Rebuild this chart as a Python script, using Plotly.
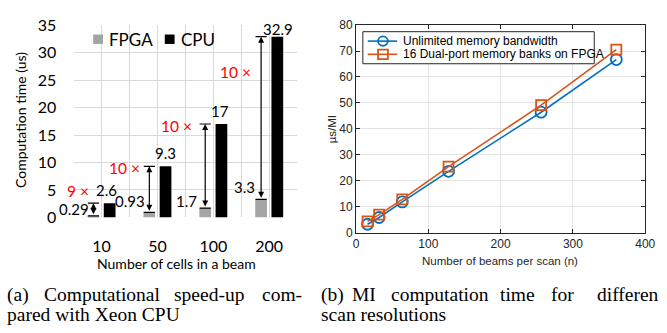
import plotly.graph_objects as go

# ---------------- data ----------------
cells = ["10", "50", "100", "200"]
fpga_us = [0.29, 0.93, 1.7, 3.3]
cpu_us = [2.6, 9.3, 17, 32.9]

beams = [16, 32, 64, 128, 256, 360]
unlimited_bw = [3.2, 5.8, 11.8, 23.6, 46.4, 66.7]
dualport_banks = [4.3, 6.9, 12.8, 25.4, 49.1, 70.5]

series_names = ["Unlimited memory bandwidth", "16 Dual-port memory banks on FPGA"]

caption_a = [["(a)", "Computational", "speed-up", "com-"], ["pared with Xeon CPU"]]
caption_b = [["(b)", "MI", "computation", "time", "for", "differen"], ["scan resolutions"]]

# ---------------- layout helpers ----------------
W, H = 667, 333
def fx(p):
    return p / W
def fy(p):
    return 1 - p / H

LEFT_FONT = "Lato, Carlito, Calibri, sans-serif"
RIGHT_FONT = "Liberation Sans, Arial, sans-serif"
SERIF = "Liberation Serif, Times New Roman, serif"

pos = list(range(len(cells)))
BAR_W = 0.21
FPGA_OFF = -0.25
CPU_OFF = 0.04
arrow_dx = FPGA_OFF + BAR_W / 2          # arrow sits on the FPGA bar
cpu_dx = CPU_OFF + BAR_W / 2

fig = go.Figure()

fig.add_bar(x=pos, y=fpga_us, width=BAR_W, offset=FPGA_OFF, marker_color="#A5A5A5",
            marker_line_width=0, xaxis="x", yaxis="y", showlegend=False, name="FPGA")
fig.add_bar(x=pos, y=cpu_us, width=BAR_W, offset=CPU_OFF, marker_color="#000000",
            marker_line_width=0, xaxis="x", yaxis="y", showlegend=False, name="CPU")

colors = ["#0072BD", "#D95319"]
symbols = ["circle-open", "square-open"]
sizes = [11, 10]
for yv, nm, c, s, sz in zip([unlimited_bw, dualport_banks], series_names, colors, symbols, sizes):
    fig.add_scatter(x=beams, y=yv, mode="lines+markers", name=nm, showlegend=False,
                    line=dict(color=c, width=1.6),
                    marker=dict(symbol=s, size=sz, color=c, line=dict(color=c, width=1.8)),
                    xaxis="x2", yaxis="y2")

annotations = []
shapes = []

# arrows, caps and labels on the bar chart
fpga_lbl_xshift = [-2, -2, -6, -4]
fpga_lbl_yshift = [7, 11, 7, 12]
cpu_lbl_xshift = [-3, 0, -1, 1]
cpu_lbl_yshift = [13, 13, 13, 8]
ratio_xshift = [-2, -7, -11, -8]
ratio_yshift = [12, -2, -2, -35]
for i, (p, f, c) in enumerate(zip(pos, fpga_us, cpu_us)):
    xa = p + arrow_dx
    annotations.append(dict(x=xa, y=c, ax=xa, ay=f, xref="x", yref="y", axref="x", ayref="y",
                            text="", showarrow=True, arrowside="end+start", arrowhead=2,
                            startarrowhead=2, arrowsize=1.0, startarrowsize=1.0, arrowwidth=1.2,
                            arrowcolor="black", standoff=0, startstandoff=0))
    for yy in (f, c):
        shapes.append(dict(type="line", xref="x", yref="y", x0=xa - 0.1, x1=xa + 0.1, y0=yy, y1=yy,
                           line=dict(color="black", width=1.2)))
    annotations.append(dict(x=xa, y=f, xref="x", yref="y", text=f"{f:g}", showarrow=False,
                            xanchor="right", yanchor="middle", xshift=fpga_lbl_xshift[i],
                            yshift=fpga_lbl_yshift[i], font=dict(family=LEFT_FONT, size=15, color="black")))
    annotations.append(dict(x=p + cpu_dx, y=c, xref="x", yref="y", text=f"{c:g}", showarrow=False,
                            xanchor="center", yanchor="middle", xshift=cpu_lbl_xshift[i],
                            yshift=cpu_lbl_yshift[i], font=dict(family=LEFT_FONT, size=15, color="black")))
    annotations.append(dict(x=xa, y=c, xref="x", yref="y", text=f"{round(c / f)} ×", showarrow=False,
                            xanchor="right", yanchor="middle", xshift=ratio_xshift[i],
                            yshift=ratio_yshift[i], font=dict(family=LEFT_FONT, size=15.5, color="#FF0000")))

# left legend (drawn)
shapes.append(dict(type="rect", xref="paper", yref="paper", x0=fx(92), x1=fx(102), y0=fy(36), y1=fy(26),
                   fillcolor="#A5A5A5", line=dict(width=0)))
shapes.append(dict(type="rect", xref="paper", yref="paper", x0=fx(165), x1=fx(175), y0=fy(36), y1=fy(26),
                   fillcolor="#000000", line=dict(width=0)))
annotations.append(dict(x=fx(106), y=fy(31), xref="paper", yref="paper", text="FPGA", showarrow=False,
                        xanchor="left", yanchor="middle", font=dict(family=LEFT_FONT, size=17, color="black")))
annotations.append(dict(x=fx(179), y=fy(31), xref="paper", yref="paper", text="CPU", showarrow=False,
                        xanchor="left", yanchor="middle", font=dict(family=LEFT_FONT, size=17, color="black")))

# right legend (drawn, compact like the MATLAB one)
shapes.append(dict(type="rect", xref="paper", yref="paper", x0=fx(367), x1=fx(603), y0=fy(57), y1=fy(23),
                   fillcolor="white", line=dict(color="#262626", width=1)))
leg_rows = [33, 47]
for row_y, nm, c, s in zip(leg_rows, series_names, colors, symbols):
    shapes.append(dict(type="line", xref="paper", yref="paper", x0=fx(372), x1=fx(402), y0=fy(row_y), y1=fy(row_y),
                       line=dict(color=c, width=1.6)))
    shapes.append(dict(type="circle" if s.startswith("circle") else "rect", xref="paper", yref="paper",
                       x0=fx(382.5), x1=fx(392.5), y0=fy(row_y + 5), y1=fy(row_y - 5),
                       fillcolor="rgba(0,0,0,0)", line=dict(color=c, width=1.8)))
    annotations.append(dict(x=fx(406), y=fy(row_y), xref="paper", yref="paper", text=nm, showarrow=False,
                            xanchor="left", yanchor="middle", font=dict(family=RIGHT_FONT, size=12, color="black")))

# left axis titles
annotations.append(dict(x=fx(177), y=fy(269), xref="paper", yref="paper", text="Number of cells in a beam",
                        showarrow=False, xanchor="center", yanchor="middle",
                        font=dict(family=LEFT_FONT, size=14, color="black")))
annotations.append(dict(x=fx(18), y=fy(117), xref="paper", yref="paper", text="Computation time (us)",
                        showarrow=False, xanchor="center", yanchor="middle", textangle=-90,
                        font=dict(family=LEFT_FONT, size=14, color="black")))

# right axis titles
annotations.append(dict(x=fx(507), y=fy(266), xref="paper", yref="paper", text="Number of beams per scan (n)",
                        showarrow=False, xanchor="center", yanchor="middle",
                        font=dict(family=RIGHT_FONT, size=11.5, color="#262626")))
annotations.append(dict(x=fx(335), y=fy(126), xref="paper", yref="paper", text="µs/MI",
                        showarrow=False, xanchor="center", yanchor="middle", textangle=-90,
                        font=dict(family=RIGHT_FONT, size=11.5, color="#262626")))

# captions (justified first lines: words placed individually)
cap_a_x = [[2, 40, 172, 262], [2]]
cap_b_x = [[322, 354, 394, 505, 557, 604], [322]]
cap_y = [302, 323]
for words_lines, xs_lines in ((caption_a, cap_a_x), (caption_b, cap_b_x)):
    for li, (words, xs) in enumerate(zip(words_lines, xs_lines)):
        for wtxt, wx in zip(words, xs):
            annotations.append(dict(x=fx(wx), y=fy(cap_y[li]), xref="paper", yref="paper", text=wtxt,
                                    showarrow=False, xanchor="left", yanchor="middle",
                                    font=dict(family=SERIF, size=19.5, color="black")))

tickvals_l = [v / 2 for v in range(-1, 2 * len(cells))]
ticktext_l = [cells[int(v)] if float(v).is_integer() else "" for v in tickvals_l]

fig.update_layout(
    width=W, height=H, margin=dict(l=0, r=0, t=0, b=0),
    paper_bgcolor="white", plot_bgcolor="white", barmode="overlay",
    showlegend=False,
    xaxis=dict(domain=[fx(72), fx(300)], range=[-0.5, len(cells) - 0.5], tickvals=tickvals_l, ticktext=ticktext_l,
               showgrid=True, gridcolor="#D9D9D9", gridwidth=1, zeroline=False, showline=False,
               ticks="outside", ticklen=14, tickcolor="rgba(0,0,0,0)",
               tickfont=dict(family=LEFT_FONT, size=16, color="black")),
    yaxis=dict(domain=[fy(220), fy(16)], range=[0, 35], dtick=5, showgrid=True, gridcolor="#D9D9D9",
               zeroline=False, showline=False, ticks="outside", ticklen=13, tickcolor="rgba(0,0,0,0)",
               tickfont=dict(family=LEFT_FONT, size=16, color="black"), anchor="x"),
    xaxis2=dict(domain=[fx(360), fx(655)], range=[0, 400], dtick=100, showgrid=True, gridcolor="#E3E3E3",
                zeroline=False, showline=True, linecolor="#262626", linewidth=1, mirror="ticks",
                ticks="inside", ticklen=4, tickcolor="#262626",
                tickfont=dict(family=RIGHT_FONT, size=12, color="#262626"), anchor="y2"),
    yaxis2=dict(domain=[fy(236), fy(16)], range=[0, 80], dtick=10, showgrid=True, gridcolor="#E3E3E3",
                zeroline=False, showline=True, linecolor="#262626", linewidth=1, mirror="ticks",
                ticks="inside", ticklen=4, tickcolor="#262626",
                tickfont=dict(family=RIGHT_FONT, size=12, color="#262626"), anchor="x2"),
    annotations=annotations, shapes=shapes,
)

fig.write_html("out.html")
